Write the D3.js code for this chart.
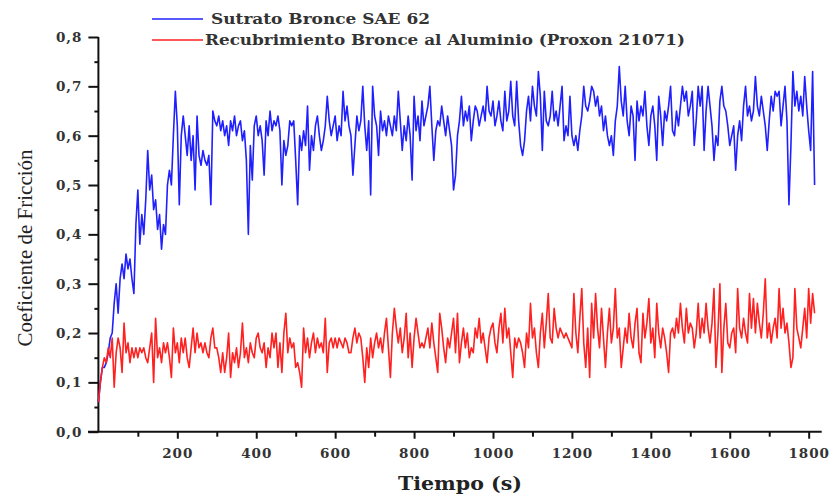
<!DOCTYPE html>
<html>
<head>
<meta charset="utf-8">
<script src="https://cdn.jsdelivr.net/npm/d3@7"></script>
<style>
  body { margin: 0; background: #fff; }
  svg { display: block; }
</style>
</head>
<body>
<svg id="chart" width="832" height="497"></svg>
<script>
// sampling step of the tribometer record (s)
var tStep = 5;

var seriesNames = ["Sutrato Bronce SAE 62", "Recubrimiento Bronce al Aluminio (Proxon 21071)"];
var seriesColors = ["#2020ff", "#ff2020"];

var yTicks = [0, 0.1, 0.2, 0.3, 0.4, 0.5, 0.6, 0.7, 0.8];
var xTicks = [200, 400, 600, 800, 1000, 1200, 1400, 1600, 1800];

// Sutrato Bronce SAE 62, one value every 5 s from t = 0
var sutrato = [
  0.06,0.10,0.13,0.13,0.14,0.16,0.19,0.20,0.26,0.30,0.24,0.31,0.34,0.31,0.36,0.33,0.35,0.31,0.28,0.42,
  0.49,0.38,0.44,0.40,0.47,0.57,0.49,0.52,0.45,0.47,0.41,0.44,0.37,0.42,0.40,0.50,0.53,0.50,0.60,0.69,
  0.62,0.46,0.60,0.64,0.60,0.56,0.62,0.55,0.60,0.49,0.64,0.56,0.54,0.57,0.55,0.54,0.56,0.46,0.65,0.63,
  0.62,0.64,0.61,0.63,0.60,0.62,0.58,0.63,0.61,0.64,0.60,0.62,0.63,0.59,0.61,0.55,0.40,0.58,0.51,0.62,
  0.64,0.60,0.62,0.59,0.52,0.63,0.60,0.65,0.61,0.63,0.62,0.64,0.61,0.50,0.59,0.56,0.58,0.63,0.62,0.63,
  0.55,0.46,0.60,0.57,0.61,0.58,0.66,0.53,0.60,0.57,0.62,0.64,0.60,0.57,0.59,0.62,0.68,0.63,0.60,0.62,
  0.64,0.59,0.62,0.60,0.69,0.63,0.66,0.62,0.60,0.52,0.58,0.64,0.61,0.63,0.70,0.62,0.57,0.63,0.48,0.70,
  0.64,0.62,0.56,0.65,0.61,0.63,0.60,0.64,0.62,0.60,0.64,0.61,0.69,0.63,0.57,0.62,0.59,0.64,0.60,0.51,
  0.68,0.61,0.64,0.59,0.67,0.62,0.64,0.66,0.70,0.62,0.55,0.61,0.63,0.62,0.66,0.63,0.60,0.64,0.61,0.58,
  0.49,0.52,0.60,0.63,0.68,0.62,0.65,0.63,0.66,0.59,0.63,0.66,0.65,0.62,0.64,0.66,0.63,0.70,0.65,0.64,
  0.67,0.62,0.64,0.67,0.63,0.61,0.69,0.63,0.65,0.71,0.64,0.62,0.71,0.63,0.58,0.56,0.59,0.65,0.68,0.63,
  0.70,0.66,0.64,0.73,0.68,0.57,0.69,0.63,0.62,0.64,0.69,0.63,0.65,0.62,0.66,0.70,0.59,0.62,0.60,0.68,
  0.60,0.58,0.60,0.57,0.61,0.64,0.70,0.66,0.65,0.67,0.70,0.69,0.66,0.68,0.64,0.66,0.61,0.64,0.60,0.58,
  0.60,0.56,0.63,0.66,0.74,0.67,0.64,0.70,0.63,0.60,0.66,0.64,0.55,0.67,0.63,0.66,0.64,0.69,0.62,0.58,
  0.64,0.66,0.62,0.55,0.68,0.64,0.58,0.65,0.63,0.66,0.70,0.61,0.60,0.65,0.62,0.66,0.70,0.67,0.69,0.64,
  0.66,0.69,0.58,0.63,0.70,0.66,0.70,0.57,0.65,0.70,0.66,0.62,0.55,0.60,0.58,0.67,0.70,0.66,0.65,0.62,
  0.58,0.60,0.62,0.53,0.60,0.63,0.59,0.66,0.70,0.64,0.66,0.63,0.65,0.72,0.66,0.64,0.68,0.65,0.62,0.57,
  0.63,0.68,0.65,0.69,0.68,0.69,0.62,0.66,0.70,0.63,0.46,0.58,0.73,0.66,0.69,0.65,0.68,0.64,0.72,0.66,
  0.61,0.57,0.73,0.50
];

// Recubrimiento Bronce al Aluminio (Proxon 21071), same sampling
var recubrimiento = [
  0.06,0.10,0.13,0.15,0.14,0.17,0.15,0.19,0.09,0.16,0.19,0.17,0.12,0.22,0.16,0.18,0.14,0.17,0.15,0.17,
  0.15,0.17,0.16,0.17,0.15,0.14,0.17,0.20,0.10,0.23,0.15,0.17,0.14,0.18,0.16,0.18,0.15,0.11,0.21,0.16,
  0.18,0.14,0.19,0.16,0.19,0.15,0.13,0.17,0.21,0.16,0.20,0.17,0.18,0.16,0.18,0.16,0.15,0.19,0.21,0.17,
  0.17,0.15,0.12,0.16,0.12,0.15,0.20,0.11,0.16,0.14,0.17,0.13,0.16,0.22,0.15,0.17,0.14,0.18,0.16,0.15,
  0.19,0.20,0.17,0.16,0.18,0.13,0.17,0.15,0.20,0.17,0.20,0.13,0.18,0.12,0.20,0.24,0.16,0.19,0.17,0.18,
  0.13,0.14,0.12,0.09,0.21,0.16,0.19,0.15,0.18,0.20,0.16,0.19,0.17,0.18,0.16,0.23,0.12,0.18,0.19,0.17,
  0.19,0.17,0.19,0.18,0.17,0.19,0.18,0.16,0.16,0.19,0.21,0.18,0.20,0.19,0.15,0.10,0.17,0.13,0.19,0.15,
  0.18,0.20,0.17,0.19,0.16,0.20,0.23,0.17,0.11,0.20,0.25,0.21,0.18,0.21,0.16,0.19,0.24,0.15,0.20,0.13,
  0.19,0.23,0.20,0.17,0.18,0.17,0.19,0.21,0.17,0.22,0.18,0.15,0.12,0.24,0.21,0.17,0.14,0.19,0.17,0.20,
  0.23,0.16,0.24,0.14,0.18,0.21,0.17,0.20,0.15,0.17,0.16,0.21,0.19,0.23,0.18,0.20,0.17,0.14,0.19,0.21,
  0.22,0.18,0.16,0.21,0.24,0.18,0.25,0.19,0.21,0.16,0.11,0.19,0.17,0.19,0.18,0.16,0.13,0.20,0.17,0.26,
  0.19,0.21,0.16,0.13,0.20,0.24,0.17,0.22,0.28,0.19,0.18,0.25,0.21,0.19,0.21,0.20,0.19,0.20,0.19,0.18,
  0.17,0.28,0.20,0.16,0.23,0.29,0.18,0.13,0.21,0.11,0.26,0.19,0.28,0.21,0.17,0.25,0.19,0.13,0.20,0.25,
  0.18,0.21,0.29,0.19,0.21,0.13,0.17,0.21,0.18,0.24,0.19,0.17,0.22,0.25,0.16,0.14,0.24,0.19,0.22,0.27,
  0.18,0.21,0.15,0.26,0.20,0.17,0.21,0.19,0.16,0.12,0.20,0.21,0.19,0.23,0.20,0.26,0.21,0.18,0.25,0.20,
  0.22,0.21,0.17,0.20,0.26,0.19,0.23,0.20,0.26,0.21,0.18,0.22,0.29,0.13,0.20,0.30,0.12,0.21,0.26,0.18,
  0.17,0.20,0.21,0.16,0.29,0.21,0.19,0.23,0.20,0.18,0.28,0.21,0.27,0.20,0.26,0.22,0.19,0.24,0.31,0.19,
  0.22,0.18,0.21,0.23,0.19,0.29,0.21,0.25,0.20,0.22,0.18,0.13,0.15,0.29,0.21,0.19,0.17,0.21,0.25,0.19,
  0.29,0.22,0.28,0.24
];

var svg = d3.select("#chart");

var x = d3.scaleLinear().domain([0, 1833]).range([98.4, 821.7]);
var y = d3.scaleLinear().domain([0, 0.8]).range([431.7, 37]);

var commaFmt = function (d) { return d3.format(".1f")(d).replace(".", ","); };
var tickFont = "DejaVu Serif";

// minor ticks first (no labels)
svg.append("g")
    .attr("transform", "translate(0,431.7)")
    .call(d3.axisBottom(x).tickValues(d3.range(100, 1900, 200)).tickSize(5).tickFormat(""))
    .call(g => g.select(".domain").remove());
svg.append("g")
    .attr("transform", "translate(98.4,0)")
    .call(d3.axisLeft(y).tickValues(d3.range(0.05, 0.8, 0.1)).tickSize(4).tickFormat(""))
    .call(g => g.select(".domain").remove());

var xAxis = svg.append("g")
    .attr("transform", "translate(0,431.7)")
    .call(d3.axisBottom(x).tickValues(xTicks).tickSize(7).tickPadding(10).tickFormat(d3.format("d")));
xAxis.select(".domain").attr("d", "M88,0H821.7");

var yAxis = svg.append("g")
    .attr("transform", "translate(98.4,0)")
    .call(d3.axisLeft(y).tickValues(yTicks).tickSize(10).tickPadding(6).tickFormat(commaFmt));
yAxis.select(".domain").attr("d", "M0,431.7V37");

svg.selectAll(".tick line, .domain").attr("stroke", "#111").attr("stroke-width", 2);
svg.selectAll(".tick text")
    .attr("font-family", tickFont)
    .attr("font-weight", "bold")
    .attr("font-size", 13.5)
    .attr("letter-spacing", 1)
    .attr("fill", "#333");

var line = d3.line()
    .x(function (d, i) { return x(i * tStep); })
    .y(function (d) { return y(d); });

[sutrato, recubrimiento].forEach(function (s, k) {
    svg.append("path")
        .datum(s)
        .attr("fill", "none")
        .attr("stroke", seriesColors[k])
        .attr("stroke-width", 1.6)
        .attr("stroke-linejoin", "round")
        .attr("d", line);
});

// legend
var legend = [
  {y: 19, x0: 152, tx: 211, len: 219},
  {y: 40, x0: 152, tx: 205, len: 480}
];
legend.forEach(function (l, k) {
    svg.append("line")
        .attr("x1", l.x0).attr("x2", 203)
        .attr("y1", l.y).attr("y2", l.y)
        .attr("stroke", seriesColors[k]).attr("stroke-width", 1.5);
    svg.append("text")
        .attr("x", l.tx).attr("y", l.y + 5)
        .attr("font-family", tickFont)
        .attr("font-weight", "bold")
        .attr("font-size", 14)
        .attr("fill", "#333")
        .attr("textLength", l.len)
        .attr("lengthAdjust", "spacingAndGlyphs")
        .text(seriesNames[k]);
});

// axis titles
svg.append("text")
    .attr("x", 460).attr("y", 490)
    .attr("text-anchor", "middle")
    .attr("font-family", tickFont)
    .attr("font-weight", "bold")
    .attr("font-size", 19)
    .attr("fill", "#222")
    .attr("textLength", 124)
    .attr("lengthAdjust", "spacingAndGlyphs")
    .text("Tiempo (s)");

svg.append("text")
    .attr("transform", "translate(32,248) rotate(-90)")
    .attr("text-anchor", "middle")
    .attr("font-family", "Liberation Serif")
    .attr("font-size", 21)
    .attr("fill", "#222")
    .text("Coeficiente de Fricción");
</script>
</body>
</html>
